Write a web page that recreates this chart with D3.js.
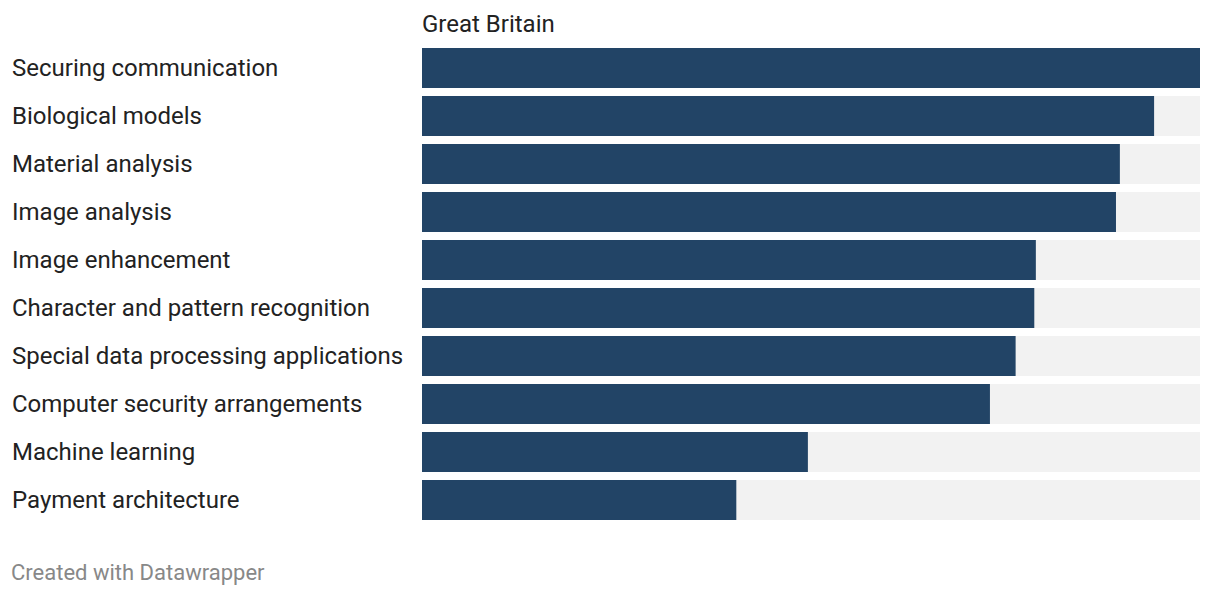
<!DOCTYPE html>
<html><head><meta charset="utf-8">
<script src="https://cdn.jsdelivr.net/npm/d3@7"></script>
<style>
html,body{margin:0;padding:0;background:#fff;}
svg{display:block;font-family:Roboto,sans-serif;}
</style></head>
<body>
<svg id="chart" width="1220" height="596"></svg>
<script>
const categories = ["Securing communication","Biological models","Material analysis","Image analysis","Image enhancement","Character and pattern recognition","Special data processing applications","Computer security arrangements","Machine learning","Payment architecture"];
const values = [100, 94.1, 89.7, 89.2, 78.9, 78.7, 76.3, 73.0, 49.6, 40.4];
const seriesName = "Great Britain";
const footer = "Created with Datawrapper";

const svg = d3.select("#chart");
const x = d3.scaleLinear().domain([0, 100]).range([422, 1200]);
const y = d3.scaleBand().domain(categories).range([44, 524]).paddingInner(8/48).paddingOuter(4/48);

svg.append("text").attr("x", 422).attr("y", 32).attr("font-size", 24).attr("fill", "#222").text(seriesName);

const rows = svg.append("g").selectAll("g").data(categories).join("g");
rows.append("rect").attr("x", x(0)).attr("y", d => y(d)).attr("width", x(100) - x(0)).attr("height", y.bandwidth()).attr("fill", "#f2f2f2");
rows.append("rect").attr("x", x(0)).attr("y", d => y(d)).attr("width", (d, i) => x(values[i]) - x(0)).attr("height", y.bandwidth()).attr("fill", "#224466");
rows.append("text").attr("x", 12).attr("y", d => y(d) + y.bandwidth() / 2).attr("dy", "0.35em").attr("font-size", 24).attr("fill", "#222").text(d => d);

svg.append("text").attr("x", 11).attr("y", 580).attr("font-size", 22).attr("fill", "#888").text(footer);
</script>
</body></html>
